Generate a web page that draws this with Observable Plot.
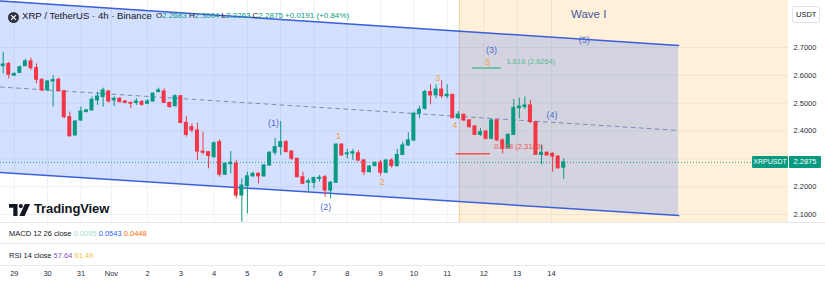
<!DOCTYPE html>
<html><head><meta charset="utf-8">
<script src="https://cdn.jsdelivr.net/npm/d3@7"></script>
<script src="https://cdn.jsdelivr.net/npm/@observablehq/plot@0.6"></script>
<style>
body{margin:0;background:#fff;font-family:"Liberation Sans",Arial,sans-serif;}
#wrap{position:relative;width:825px;height:282px;overflow:hidden;background:#fff;}
.ov{position:absolute;white-space:nowrap;line-height:1;}
.sep{position:absolute;left:0;width:825px;height:1px;background:#e6e8ee;}
</style></head><body><div id="wrap"></div>
<script>
// ---- candle data (4h, XRP/USDT) ----
const open  = [2.633,2.641,2.599,2.609,2.633,2.650,2.626,2.584,2.546,2.578,2.584,2.543,2.450,2.384,2.438,2.468,2.474,2.510,2.522,2.542,2.510,2.516,2.506,2.501,2.501,2.504,2.498,2.506,2.540,2.542,2.501,2.489,2.525,2.429,2.414,2.402,2.326,2.324,2.306,2.360,2.243,2.281,2.282,2.168,2.202,2.237,2.246,2.237,2.276,2.322,2.342,2.360,2.326,2.300,2.234,2.214,2.214,2.228,2.234,2.186,2.214,2.351,2.316,2.319,2.320,2.294,2.252,2.274,2.286,2.250,2.294,2.274,2.314,2.348,2.366,2.462,2.480,2.540,2.528,2.549,2.525,2.530,2.446,2.458,2.438,2.416,2.386,2.398,2.372,2.438,2.366,2.338,2.386,2.482,2.486,2.492,2.432,2.314,2.322,2.318,2.308,2.2683];
const high  = [2.683,2.647,2.609,2.633,2.657,2.662,2.641,2.587,2.581,2.599,2.590,2.546,2.468,2.438,2.486,2.477,2.522,2.540,2.554,2.546,2.522,2.519,2.510,2.504,2.516,2.510,2.513,2.537,2.554,2.552,2.504,2.530,2.528,2.453,2.426,2.428,2.396,2.326,2.360,2.368,2.286,2.326,2.294,2.228,2.252,2.252,2.250,2.280,2.326,2.374,2.434,2.366,2.330,2.302,2.252,2.228,2.234,2.240,2.240,2.219,2.354,2.354,2.334,2.334,2.330,2.298,2.276,2.288,2.294,2.298,2.300,2.334,2.360,2.393,2.468,2.489,2.546,2.566,2.566,2.581,2.566,2.532,2.470,2.462,2.441,2.420,2.408,2.402,2.441,2.441,2.372,2.390,2.513,2.518,2.522,2.510,2.434,2.348,2.324,2.322,2.312,2.3004];
const low   = [2.605,2.587,2.597,2.607,2.631,2.617,2.570,2.540,2.542,2.486,2.540,2.444,2.378,2.381,2.434,2.465,2.471,2.492,2.486,2.501,2.488,2.501,2.498,2.480,2.492,2.489,2.494,2.504,2.537,2.498,2.482,2.487,2.426,2.378,2.393,2.294,2.314,2.264,2.302,2.234,2.240,2.246,2.156,2.072,2.102,2.234,2.210,2.234,2.274,2.312,2.312,2.322,2.294,2.231,2.207,2.180,2.192,2.216,2.162,2.156,2.211,2.310,2.300,2.294,2.290,2.240,2.250,2.271,2.238,2.247,2.266,2.270,2.312,2.345,2.362,2.444,2.474,2.494,2.516,2.516,2.516,2.444,2.441,2.434,2.410,2.384,2.381,2.368,2.369,2.362,2.318,2.336,2.384,2.444,2.477,2.426,2.312,2.278,2.310,2.252,2.262,2.2263];
const close = [2.639,2.602,2.605,2.629,2.650,2.626,2.584,2.546,2.578,2.583,2.543,2.450,2.381,2.434,2.470,2.474,2.512,2.524,2.546,2.506,2.516,2.504,2.501,2.498,2.506,2.494,2.506,2.534,2.546,2.501,2.486,2.525,2.429,2.386,2.402,2.326,2.322,2.310,2.356,2.243,2.282,2.286,2.168,2.204,2.237,2.246,2.237,2.276,2.322,2.342,2.360,2.324,2.300,2.234,2.210,2.219,2.231,2.232,2.186,2.214,2.351,2.312,2.320,2.324,2.294,2.252,2.272,2.286,2.250,2.294,2.274,2.314,2.348,2.366,2.462,2.477,2.540,2.528,2.549,2.525,2.530,2.446,2.459,2.438,2.414,2.386,2.396,2.372,2.438,2.366,2.336,2.386,2.482,2.488,2.492,2.432,2.314,2.322,2.312,2.308,2.266,2.2875];

// ---- legend values ----
const headerTitle = "XRP / TetherUS · 4h · Binance";
const headerChange = "+0.0191";
const headerChangePct = "(+0.84%)";
const macdLabel = "MACD 12 26 close";
const macdValues = ["0.0095", "0.0543", "0.0448"];
const rsiLabel = "RSI 14 close";
const rsiValues = ["57.64", "61.49"];

// ---- axis ticks ----
const dayTickIndex  = [2,8,14,19.5,26,32,38,44,50,56,62,68,74,80,86.6,92.6,98.8];
const dayTickLabels = ["29","30","31","Nov","2","3","4","5","6","7","8","9","10","11","12","13","14"];
const priceTicks = [2.1,2.2,2.3,2.4,2.5,2.6,2.7];
const priceTickHiddenByTag = [2.3];

// ---- drawings ----
const channelX     = [-0.5, 121.7];
const channelUpper = [2.867, 2.707];
const channelMid   = [2.558, 2.402];
const channelLower = [2.251, 2.096];
const waveBoxStart = 82.2;
const waveBoxTitle = "Wave I";
const waveBoxTitlePos = [105.5, 2.819];
const waveText = ["(1)","(2)","(3)","(4)","(5)","1","2","3","4","5"];
const waveX    = [48.7, 58.1, 88.0, 98.9, 104.7, 60.4, 68.3, 78.3, 81.4, 87.3];
const waveY    = [2.427, 2.125, 2.689, 2.456, 2.725, 2.380, 2.215, 2.589, 2.420, 2.646];
const fibLabels = ["1.618 (2.6264)", "0.618 (2.3183)"];
const fibPrice  = [2.6264, 2.3183];
const fibX1     = [84.6, 81.6];
const fibX2     = [89.8, 87.8];
const fibLabelX = [90.7, 88.5];
const fibLabelY = [2.6508, 2.3443];
const fibColor  = ["#5cb896", "#ef5350"];
const priceLineEnd = 135.0;

// ---- build ----
const xDomain = [-0.486, 141.5];
const yDomain = [2.0712, 2.8689];
const UP = "#089981", DOWN = "#f23645";
const candles = open.map((o, i) => ({i, o, h: high[i], l: low[i], c: close[i]}));
const chan = channelX.map((x, k) => ({x, up: channelUpper[k], mid: channelMid[k], lo: channelLower[k]}));
const waves = waveText.map((t, k) => ({t, x: waveX[k], y: waveY[k]}));
const fibs = fibLabels.map((t, k) => ({t, p: fibPrice[k], x1: fibX1[k], x2: fibX2[k], lx: fibLabelX[k], ly: fibLabelY[k], col: fibColor[k]}));
const last = candles[candles.length - 1];
const tickMap = new Map(dayTickIndex.map((d, k) => [d, dayTickLabels[k]]));
const col = d => d.c >= d.o ? UP : DOWN;
const shownPriceTicks = priceTicks.filter(t => !priceTickHiddenByTag.includes(t));

const chart = Plot.plot({
  width: 825, height: 282,
  marginLeft: 0, marginRight: 37, marginTop: 0, marginBottom: 60,
  style: {fontFamily: "Liberation Sans, Arial, sans-serif", fontSize: "7.5px", color: "#131722", background: "transparent", overflow: "visible"},
  x: {domain: xDomain, axis: null, label: null},
  y: {domain: yDomain, axis: null, label: null},
  marks: [
    Plot.ruleY(priceTicks, {stroke: "#eef1f6"}),
    Plot.ruleX(dayTickIndex, {stroke: "#eef1f6"}),
    Plot.rect([waveBoxStart], {x1: d => d, x2: xDomain[1], y1: yDomain[0], y2: yDomain[1], fill: "#ff9800", fillOpacity: 0.15}),
    Plot.ruleX([waveBoxStart], {stroke: "#f6cf9a", strokeWidth: 1}),
    Plot.areaY(chan, {x: "x", y1: "lo", y2: "up", fill: "#2962ff", fillOpacity: 0.2}),
    Plot.line(chan, {x: "x", y: "up", stroke: "#3b5fd9", strokeWidth: 1.5}),
    Plot.line(chan, {x: "x", y: "lo", stroke: "#3b5fd9", strokeWidth: 1.5}),
    Plot.line(chan, {x: "x", y: "mid", stroke: "#7d8bbd", strokeWidth: 1, strokeDasharray: "4,4"}),
    Plot.ruleY([last.c], {x1: xDomain[0], x2: priceLineEnd, stroke: UP, strokeWidth: 1, strokeDasharray: "1,2", strokeOpacity: 0.9}),
    Plot.ruleY(fibs, {y: "p", x1: "x1", x2: "x2", stroke: "col", strokeWidth: 1.5}),
    Plot.ruleX(candles, {x: "i", y1: "l", y2: "h", stroke: col, strokeWidth: 1}),
    Plot.rect(candles, {x1: d => d.i - 0.36, x2: d => d.i + 0.36, y1: d => Math.min(d.o, d.c), y2: d => Math.max(d.o, d.c), fill: col, insetTop: -0.5, insetBottom: -0.5}),
    Plot.text(fibs, {x: "lx", y: "ly", text: "t", fill: "col", textAnchor: "start", fontSize: 7.5}),
    Plot.text(waves, {x: "x", y: "y", text: "t", fill: d => d.t.startsWith("(") ? "#4d6bd1" : "#f5a142", fontSize: 9}),
    Plot.text([waveBoxTitle], {x: waveBoxTitlePos[0], y: waveBoxTitlePos[1], text: d => d, fill: "#44589e", fontSize: 11.5}),
    Plot.axisY(shownPriceTicks, {anchor: "right", tickSize: 0, tickPadding: 5, tickFormat: d => d.toFixed(4), fontSize: 7.5, fill: "#2a2e39", label: null}),
    Plot.axisX(dayTickIndex, {anchor: "bottom", tickSize: 0, tickPadding: 48, tickFormat: d => tickMap.get(d), fontSize: 7.5, fill: "#2a2e39", label: null})
  ]
});

const wrap = document.getElementById("wrap");
chart.style.position = "absolute"; chart.style.left = "0"; chart.style.top = "0";
wrap.appendChild(chart);

function ov(html, css) {
  const d = document.createElement("div");
  d.className = "ov"; d.innerHTML = html; d.style.cssText += css; wrap.appendChild(d); return d;
}
// pane separators
[222, 243, 265].forEach(t => { const s = document.createElement("div"); s.className = "sep"; s.style.top = t + "px"; wrap.appendChild(s); });

// header
ov('<svg width="11" height="11" viewBox="0 0 11 11"><circle cx="5.5" cy="5.5" r="5.5" fill="#2f3340"/><path d="M3 3.2 L8 7.8 M8 3.2 L3 7.8" stroke="#fff" stroke-width="1.1"/></svg>', "left:8px;top:10px;");
ov(headerTitle, "left:22px;top:10.5px;font-size:9.6px;color:#131722;");
const f = v => v.toFixed(4);
ov(`<span style="color:#131722">O</span>${f(last.o)} <span style="color:#131722">H</span>${f(last.h)} <span style="color:#131722">L</span>${f(last.l)} <span style="color:#131722">C</span>${f(last.c)} ${headerChange} ${headerChangePct}`,
   "left:156px;top:11.5px;font-size:8px;color:" + UP + ";");

// USDT box
ov('USDT', "left:792px;top:6px;width:28px;height:17px;box-sizing:border-box;border:1px solid #e0e3eb;border-radius:2px;background:#fff;font-size:7.5px;color:#131722;padding:4px 0 0 3px;");

// last price tags
const yPx = chart.scale("y").apply(last.c);
ov('XRPUSDT', `left:752px;top:${yPx - 6}px;width:36px;height:12px;background:${UP};color:#fff;font-size:7px;text-align:center;padding-top:2.5px;box-sizing:border-box;border-radius:1px;`);
ov(f(last.c), `left:789px;top:${yPx - 6}px;width:32px;height:12px;background:${UP};color:#fff;font-size:7.5px;text-align:center;padding-top:2.3px;box-sizing:border-box;border-radius:1px;`);

// TradingView watermark
ov('<svg width="22" height="12" viewBox="0 0 22 12"><path d="M0 0 H8.5 V12 H4.3 V3.8 H0 Z" fill="#131722"/><circle cx="11.8" cy="2.1" r="2.1" fill="#131722"/><path d="M15.8 0 H21 L15.6 12 H10.4 Z" fill="#131722"/></svg>', "left:9px;top:203px;");
ov('TradingView', "left:34px;top:202px;font-size:13px;font-weight:bold;color:#131722;letter-spacing:-0.1px;");

// indicator rows
ov(`${macdLabel} <span style="color:#a7dccf">${macdValues[0]}</span> <span style="color:#2962ff">${macdValues[1]}</span> <span style="color:#ff6d00">${macdValues[2]}</span>`, "left:9px;top:229.5px;font-size:7.5px;color:#131722;");
ov(`${rsiLabel} <span style="color:#7e57c2">${rsiValues[0]}</span> <span style="color:#f6c343">${rsiValues[1]}</span>`, "left:9px;top:252px;font-size:7.5px;color:#131722;");
</script></body></html>
